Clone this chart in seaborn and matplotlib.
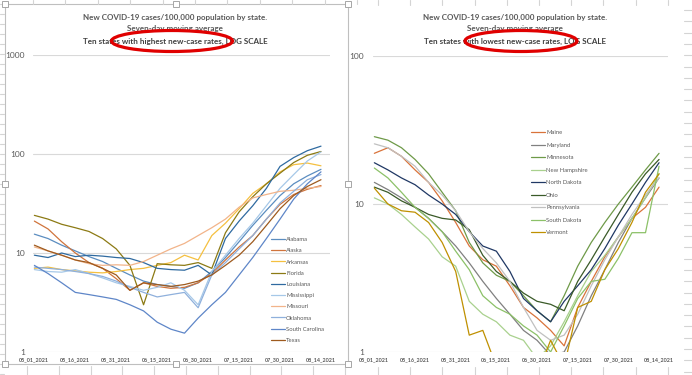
import pandas as pd
import numpy as np
import seaborn as sns
import matplotlib.pyplot as plt
from matplotlib.patches import Ellipse, Rectangle
from matplotlib.lines import Line2D

# day index (every 5 days from 05/01/2021)
days = list(range(0, 106, 5))
tick_days = [0, 15, 30, 45, 60, 75, 90, 105]
tick_labels = ["05_01_2021", "05_16_2021", "05_31_2021", "06_15_2021",
               "06_30_2021", "07_15_2021", "07_30_2021", "08_14_2021"]

# ten states with highest rates
high_states = ["Alabama", "Alaska", "Arkansas", "Florida", "Louisiana",
               "Mississippi", "Missouri", "Oklahoma", "South Carolina", "Texas"]
high_colors = ["#5B8DC0", "#D0743C", "#F5C040", "#8C7A14", "#2F6AA0",
               "#A6C8E8", "#F2B48A", "#8FB0DC", "#5E86C8", "#9E5A1E"]
alabama = [15.5, 14, 12, 10.5, 9.2, 8.2, 7.0, 6.0, 5.2, 4.8, 4.6, 4.4, 5.0, 6.5, 9.0, 13, 19, 27, 38, 50, 60, 70]
alaska = [21, 17.5, 13, 10, 8, 7, 5.5, 4.2, 5.0, 4.6, 4.4, 4.5, 5.0, 6.2, 8.5, 11.5, 15, 22, 31, 39, 44, 48]
arkansas = [7.0, 7.2, 6.8, 6.6, 6.4, 6.3, 6.5, 6.8, 7.0, 7.5, 8.0, 9.5, 8.5, 15, 20, 28, 40, 50, 66, 78, 81, 76]
florida = [24, 22, 19.5, 18, 16.5, 14, 11, 7.5, 3.0, 7.8, 7.6, 7.5, 8.0, 7.0, 16, 26, 37, 50, 64, 82, 97, 106]
louisiana = [9.5, 9.0, 10.0, 9.2, 9.5, 9.3, 9.0, 8.8, 8.0, 7.0, 6.8, 6.7, 7.5, 6.0, 14, 21, 30, 45, 75, 92, 108, 120]
mississippi = [6.8, 6.5, 6.4, 6.8, 6.2, 5.6, 5.0, 4.6, 4.2, 4.5, 5.0, 4.2, 3.0, 6.5, 9.5, 14, 20, 30, 45, 62, 85, 105]
missouri = [11.5, 10.5, 9.5, 8.5, 7.8, 7.5, 7.6, 7.5, 8.2, 9.5, 11, 12.5, 15, 18, 22, 29, 36, 39, 42, 43, 45, 47]
oklahoma = [7.2, 7.0, 6.8, 6.5, 6.2, 5.8, 5.2, 4.5, 4.0, 3.6, 3.8, 4.0, 2.8, 6.0, 8.0, 11, 15, 22, 32, 42, 55, 62]
south_carolina = [7.5, 6.2, 5.0, 4.0, 3.8, 3.6, 3.4, 3.0, 2.6, 2.0, 1.7, 1.55, 2.2, 3.0, 4.0, 6.0, 9.0, 14, 22, 35, 50, 66]
texas = [12, 10.5, 9.5, 8.5, 8, 7, 6, 4.2, 5.0, 4.8, 4.6, 4.8, 5.2, 6.0, 7.5, 9.5, 13, 19, 28, 38, 47, 55]
high_values = [alabama, alaska, arkansas, florida, louisiana,
               mississippi, missouri, oklahoma, south_carolina, texas]

# ten states with lowest rates
low_states = ["Maine", "Maryland", "Minnesota", "New Hampshire", "North Dakota",
              "Ohio", "Pennsylvania", "South Dakota", "Vermont"]
low_colors = ["#D9733A", "#808080", "#6E9A48", "#A9D18E", "#203864",
              "#3A5A28", "#C0C0C0", "#8CC168", "#BF9000"]
maine = [22, 24, 21, 17, 14, 10.5, 7.5, 5.2, 4.2, 3.8, 2.8, 2.0, 1.7, 1.4, 1.1, 2.0, 3.0, 4.4, 6.0, 8.0, 9.5, 13]
maryland = [14, 12.5, 11, 9.5, 8.0, 6.5, 5.2, 4.0, 3.0, 2.3, 1.8, 1.4, 1.2, 0.95, 1.0, 1.5, 2.4, 3.6, 5.5, 8.0, 11, 15]
minnesota = [28.5, 27, 24, 20, 16, 12, 9, 5.5, 4.0, 3.3, 3.0, 2.4, 1.9, 1.6, 2.4, 3.8, 5.5, 7.5, 10, 13, 17, 22]
new_hampshire = [11, 10, 8.5, 7.0, 5.8, 4.4, 3.8, 2.2, 1.8, 1.6, 1.3, 1.2, 0.9, 1.1, 1.6, 2.4, 3.5, 4.5, 6.0, 8.0, 11, 16]
north_dakota = [19, 17, 15, 13.5, 11.5, 10, 8.5, 6.5, 5.2, 4.8, 3.5, 2.3, 1.9, 1.6, 2.2, 2.8, 3.6, 5.0, 7.2, 10, 14, 19]
ohio = [13, 12, 10.5, 9.5, 8.5, 8.0, 7.8, 6.7, 4.5, 3.5, 3.0, 2.5, 2.2, 2.1, 1.9, 3.0, 4.2, 6.0, 8.5, 12, 16, 20]
pennsylvania = [25.5, 24, 21, 18, 14, 11.5, 9.0, 6.5, 5.0, 4.0, 3.0, 2.0, 1.4, 1.2, 1.3, 1.8, 2.8, 4.2, 6.0, 8.5, 11.5, 15]
south_dakota = [17.5, 15, 12, 9.5, 8.0, 6.5, 4.8, 3.6, 2.4, 2.0, 1.8, 1.5, 1.3, 1.0, 1.5, 2.3, 3.0, 3.1, 4.3, 6.4, 6.4, 18]
vermont = [12.8, 10, 9.0, 8.8, 7.5, 5.5, 3.5, 1.3, 1.4, 0.8, 0.7, 0.9, 0.7, 1.2, 0.8, 2.0, 2.2, 3.6, 5.0, 7.5, 12, 16]
low_values = [maine, maryland, minnesota, new_hampshire, north_dakota,
              ohio, pennsylvania, south_dakota, vermont]


def long_frame(states, values):
    rows = []
    for st, vals in zip(states, values):
        for d, v in zip(days, vals):
            rows.append({"day": d, "rate": v, "state": st})
    return pd.DataFrame(rows)


df_high = long_frame(high_states, high_values)
df_low = long_frame(low_states, low_values)

sns.set_theme(style="white")
plt.rcParams['font.family'] = ['Lato', 'DejaVu Sans']

W, H = 692, 375
fig = plt.figure(figsize=(W / 100, H / 100), dpi=100)
fig.patch.set_facecolor("white")


def fx(px):
    return px / W


def fy(py):
    return 1 - py / H


grid_gray = "#D9D9D9"
text_gray = "#595959"

# spreadsheet cell lines around the charts
cell = "#D4D4D4"
for k in range(11):
    x = 33 + 32.4 * k
    fig.add_artist(Line2D([fx(x), fx(x)], [fy(0), fy(4)], color=cell, lw=0.8))
    x = 27 + 31.8 * k
    fig.add_artist(Line2D([fx(x), fx(x)], [fy(366), fy(375)], color=cell, lw=0.8))
for k in range(10):
    x = 378 + 32.2 * k
    fig.add_artist(Line2D([fx(x), fx(x)], [fy(0), fy(5)], color=cell, lw=0.8))
    fig.add_artist(Line2D([fx(x), fx(x)], [fy(367), fy(375)], color=cell, lw=0.8))
for k in range(38):
    y = 4 + 10 * k
    fig.add_artist(Line2D([fx(0), fx(4)], [fy(y), fy(y)], color=cell, lw=0.8))
for k in range(33):
    y = 10 + 11.3 * k
    fig.add_artist(Line2D([fx(684), fx(692)], [fy(y), fy(y)], color=cell, lw=0.8))

# selected chart frame with handles on the left chart
fig.add_artist(Rectangle((fx(5), fy(364)), fx(343), 360 / H, fill=False,
                         edgecolor="#BFBFBF", lw=0.8, transform=fig.transFigure))
for hx in [5, 176, 348]:
    for hy in [4, 184, 364]:
        if hx == 176 and hy == 184:
            continue
        fig.add_artist(Rectangle((fx(hx - 3), fy(hy + 3)), fx(6), 6 / H,
                                 facecolor="white", edgecolor="#A6A6A6", lw=0.7,
                                 transform=fig.transFigure, zorder=5))

ax1 = fig.add_axes([fx(33), fy(352), fx(297), 297 / H])
ax2 = fig.add_axes([fx(373), fy(352), fx(295), 296 / H])

sns.lineplot(data=df_high, x="day", y="rate", hue="state", hue_order=high_states,
             palette=dict(zip(high_states, high_colors)), linewidth=0.9, ax=ax1)
sns.lineplot(data=df_low, x="day", y="rate", hue="state", hue_order=low_states,
             palette=dict(zip(low_states, low_colors)), linewidth=0.9, ax=ax2)

for ax, top, pad in [(ax1, 1000, 6), (ax2, 100, 6.5)]:
    ax.set_yscale("log")
    ax.set_ylim(1, top)
    yt = [t for t in [1, 10, 100, 1000] if t <= top]
    ax.set_yticks(yt)
    ax.set_yticklabels([str(t) for t in yt])
    ax.yaxis.set_minor_locator(plt.NullLocator())
    ax.set_xlim(-0.5, 108.3)
    ax.set_xticks(tick_days)
    ax.set_xticklabels(tick_labels)
    ax.tick_params(axis="x", length=0, pad=3.5, labelsize=3.9, colors=text_gray)
    ax.tick_params(axis="y", length=0, pad=pad, labelsize=6, colors=text_gray)
    for lab in ax.get_xticklabels():
        lab.set_fontweight("bold")
    ax.yaxis.grid(True, color=grid_gray, lw=0.8)
    ax.set_axisbelow(True)
    for s in ax.spines.values():
        s.set_visible(False)
    ax.set_xlabel("")
    ax.set_ylabel("")
    ax.set_facecolor("none")

# legends
h1, l1 = ax1.get_legend_handles_labels()
ax1.legend(h1, l1, loc="upper left", bbox_to_anchor=(fx(271), fy(237)),
           bbox_transform=fig.transFigure, frameon=False, fontsize=4.2,
           handlelength=2.4, handletextpad=0.2, labelspacing=1.05,
           borderpad=0, borderaxespad=0, labelcolor=text_gray)
h2, l2 = ax2.get_legend_handles_labels()
ax2.legend(h2, l2, loc="upper left", bbox_to_anchor=(fx(531), fy(130)),
           bbox_transform=fig.transFigure, frameon=False, fontsize=4.2,
           handlelength=2.4, handletextpad=0.2, labelspacing=1.28,
           borderpad=0, borderaxespad=0, labelcolor=text_gray)

# titles
titles = [
    (175, "Ten states with highest new-case rates, LOG SCALE"),
    (515, "Ten states with lowest new-case rates, LOG SCALE"),
]
for cx, line3 in titles:
    fig.text(fx(cx), fy(17), "New COVID-19 cases/100,000 population by state.",
             ha="center", va="center", fontsize=5.8, fontweight="bold", color=text_gray)
    fig.text(fx(cx), fy(29), "Seven-day moving average",
             ha="center", va="center", fontsize=5.8, fontweight="bold", color=text_gray)
    fig.text(fx(cx), fy(41), line3,
             ha="center", va="center", fontsize=5.8, fontweight="bold", color="#404040")

# red hand-drawn ellipses
fig.add_artist(Ellipse((fx(172), fy(41)), fx(121), 21 / H, fill=False,
                       edgecolor="#E00000", lw=2.3, transform=fig.transFigure, zorder=6))
fig.add_artist(Ellipse((fx(521), fy(41)), fx(112), 21 / H, fill=False,
                       edgecolor="#E00000", lw=2.3, transform=fig.transFigure, zorder=6))

fig.savefig("out.png", dpi=100)
